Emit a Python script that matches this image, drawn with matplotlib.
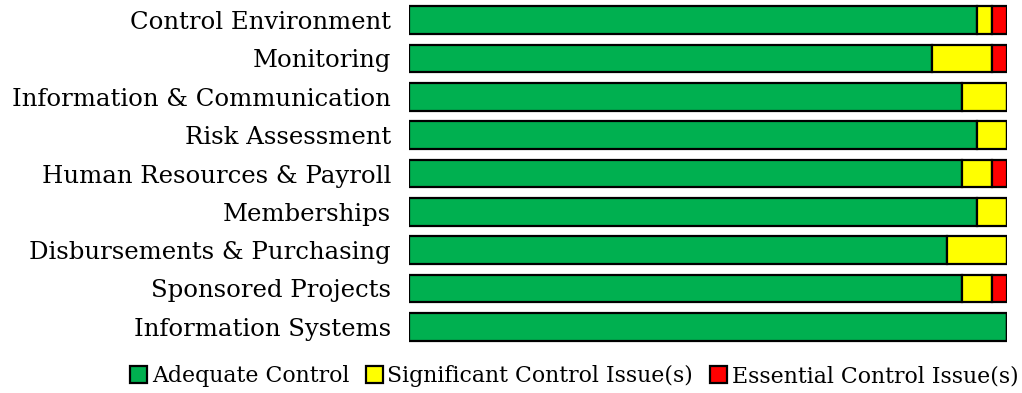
import matplotlib.pyplot as plt
from matplotlib.patches import Patch

plt.rcParams['font.family'] = ['DejaVu Serif']

categorias = ['Control Environment', 'Monitoring', 'Information & Communication',
              'Risk Assessment', 'Human Resources & Payroll', 'Memberships',
              'Disbursements & Purchasing', 'Sponsored Projects', 'Information Systems']
adequado = [95.0, 87.5, 92.5, 95.0, 92.5, 95.0, 90.0, 92.5, 100.0]
significativo = [2.5, 10.0, 7.5, 5.0, 5.0, 5.0, 10.0, 5.0, 0.0]
essencial = [2.5, 2.5, 0.0, 0.0, 2.5, 0.0, 0.0, 2.5, 0.0]

series = ['Adequate Control', 'Significant Control Issue(s)', 'Essential Control Issue(s)']
cores = ['#00b050', '#ffff00', '#ff0000']

fig = plt.figure(figsize=(10.22, 3.93), dpi=100)
ax = fig.add_axes([409 / 1022, 1 - 346 / 393, 598 / 1022, 345 / 393])

y = list(range(len(categorias)))
esquerda = [0.0] * len(categorias)
for valores, cor in zip([adequado, significativo, essencial], cores):
    ax.barh(y, valores, left=esquerda, height=0.73, color=cor,
            edgecolor='black', linewidth=1.6)
    esquerda = [e + v for e, v in zip(esquerda, valores)]

ax.set_xlim(0, 100)
ax.set_ylim(len(categorias) - 0.5, -0.5)
ax.set_yticks(y)
ax.set_yticklabels(categorias, fontsize=17.6)
ax.tick_params(axis='y', length=0, pad=13)
ax.set_xticks([])
for s in ax.spines.values():
    s.set_visible(False)

handles = [Patch(facecolor=c, edgecolor='black', linewidth=1.6) for c in cores]
fig.legend(handles, series, loc='center', bbox_to_anchor=(574 / 1022, 1 - 376 / 393),
           ncol=3, frameon=False, fontsize=15.8, handlelength=0.8, handleheight=0.8,
           handletextpad=0.2, columnspacing=0.75, borderpad=0)

fig.savefig('out.png', dpi=100)
